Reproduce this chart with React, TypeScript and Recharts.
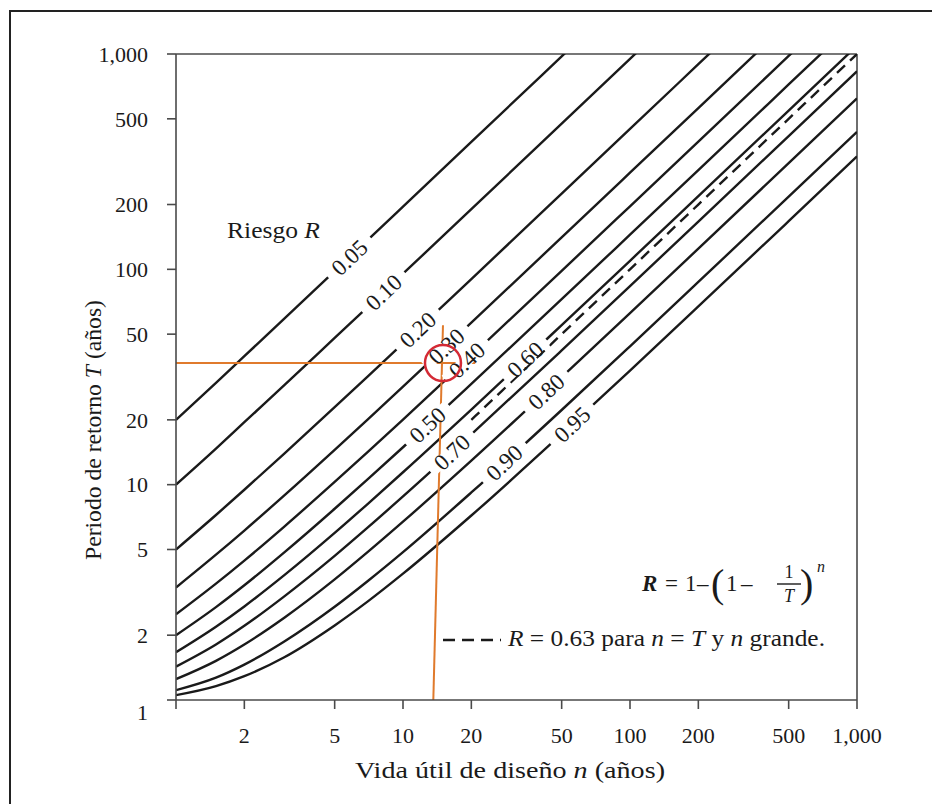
import React from 'react';
import { LineChart, Line, XAxis, YAxis, ReferenceLine, ReferenceDot } from 'recharts';

// design life n (years) at which each curve was read
const nYears = [1, 1.5, 2, 3, 5, 7, 10, 20, 50, 100, 200, 500, 1000];

// return period T (years) per risk curve
const r05 = [20, 29.7, 39.5, 59.0, 98.0, 137.0, 195.5, 390.4, 975.3, 1950, null, null, null];
const r10 = [10, 14.7, 19.5, 29.0, 48.0, 66.9, 95.4, 190.3, 475.1, 949.6, 1898.7, null, null];
const r20 = [5, 7.23, 9.47, 13.95, 22.91, 31.87, 45.31, 90.13, 224.6, 448.6, 896.8, 2241, null];
const r30 = [3.33, 4.73, 6.12, 8.92, 14.52, 20.12, 28.53, 56.57, 140.7, 280.9, 561.2, 1401.8, null];
const r40 = [2.5, 3.47, 4.44, 6.39, 10.3, 14.2, 20.07, 39.65, 98.38, 196.3, 392.0, 979.3, 1958];
const r50 = [2, 2.7, 3.41, 4.85, 7.73, 10.61, 14.92, 29.35, 72.63, 144.8, 289.0, 721.8, 1443];
const r60 = [1.667, 2.19, 2.72, 3.8, 5.97, 8.15, 11.42, 22.32, 55.07, 109.6, 218.8, 546.2, 1091.9];
const r70 = [1.429, 1.81, 2.21, 3.03, 4.67, 6.33, 8.82, 17.12, 42.03, 83.56, 166.6, 415.8, 831.1];
const r80 = [1.25, 1.52, 1.81, 2.41, 3.63, 4.87, 6.73, 12.93, 31.57, 62.63, 124.8, 311.2, 621.8];
const r90 = [1.111, 1.27, 1.46, 1.87, 2.71, 3.57, 4.86, 9.2, 22.22, 43.93, 87.36, 217.6, 434.8];
const r95 = [1.053, 1.16, 1.29, 1.58, 2.22, 2.87, 3.86, 7.19, 17.2, 33.88, 67.26, 167.4, 334.3];
// dashed R = 0.63 line (T = n)
const r63 = [null, null, null, null, null, null, null, 20, 50, 100, 200, 500, 1000];

const riskNames = ['0.05', '0.10', '0.20', '0.30', '0.40', '0.50', '0.60', '0.70', '0.80', '0.90', '0.95'];
const riskValues = [r05, r10, r20, r30, r40, r50, r60, r70, r80, r90, r95];

const axisTicks = [1, 2, 5, 10, 20, 50, 100, 200, 500, 1000];

// where along n each curve label sits
const labelSpots = [5.8, 8.2, 11.6, 15.5, 19.1, 12.8, 34.5, 16.4, 42.7, 27.9, 55.5];

// orange read-off lines and the circled point
const readN = 15;
const readT = 36.7;

const series = riskNames.map((name, i) => ({ key: 'r' + i, name, values: riskValues[i] }));

const data = nYears.map((n, i) => {
  const row: Record<string, number | null> = { n, r63: r63[i] };
  series.forEach((s) => {
    row[s.key] = s.values[i];
  });
  return row;
});

// log-log interpolation along a read series
function onCurve(values: (number | null)[], n: number) {
  for (let i = 0; i < nYears.length - 1; i++) {
    const a = nYears[i];
    const b = nYears[i + 1];
    if (n >= a && n <= b && values[i] != null && values[i + 1] != null) {
      const f = (Math.log(n) - Math.log(a)) / (Math.log(b) - Math.log(a));
      return Math.exp(Math.log(values[i] as number) * (1 - f) + Math.log(values[i + 1] as number) * f);
    }
  }
  return 1;
}

const SERIF = '"Liberation Serif", "Times New Roman", serif';
const INK = '#1a1a1a';
const AXIS = '#4a4a4a';

const fmt = (v: number) => (v >= 1000 ? v.toLocaleString('en-US') : String(v));

function YTick(props: any) {
  const { x, y, payload } = props;
  const shift = payload.value === 1 ? 12 : 0;
  return (
    <text x={x} y={y + shift} dy="0.35em" textAnchor="end" fontFamily={SERIF} fontSize={22} fill={INK}>
      {fmt(payload.value)}
    </text>
  );
}

function XTick(props: any) {
  const { x, y, payload } = props;
  if (payload.value === 1) return null;
  return (
    <text x={x} y={y} dy="0.71em" textAnchor="middle" fontFamily={SERIF} fontSize={22} fill={INK}>
      {fmt(payload.value)}
    </text>
  );
}

function RiskLabel({ cx, cy, text }: { cx: number; cy: number; text: string }) {
  return (
    <g transform={`translate(${cx},${cy}) rotate(-43.5)`}>
      <rect x={-29} y={-6} width={58} height={12} fill="#fff" />
      <text x={0} y={0} dy="0.35em" textAnchor="middle" fontFamily={SERIF} fontSize={23} fill={INK}>
        {text}
      </text>
    </g>
  );
}

export default function App() {
  return (
    <div style={{ position: 'absolute', left: 0, top: 0, width: 932, height: 804, background: '#fff' }}>
      <div
        style={{
          position: 'absolute',
          left: 9,
          top: 10,
          width: 923,
          height: 794,
          borderTop: '2px solid #222',
          borderLeft: '2px solid #222',
          boxSizing: 'border-box',
        }}
      />
      <LineChart
        width={932}
        height={804}
        data={data}
        margin={{ top: 54, right: 75, bottom: 44, left: 96 }}
        style={{ position: 'absolute', left: 0, top: 0 }}
      >
        <XAxis
          dataKey="n"
          type="number"
          scale="log"
          domain={[1, 1000]}
          allowDataOverflow
          ticks={axisTicks}
          tick={<XTick />}
          tickSize={9}
          tickMargin={18}
          height={60}
          axisLine={{ stroke: AXIS, strokeWidth: 1.6 }}
          tickLine={{ stroke: AXIS, strokeWidth: 1.6 }}
        />
        <YAxis
          type="number"
          scale="log"
          domain={[1, 1000]}
          allowDataOverflow
          ticks={axisTicks}
          tick={<YTick />}
          tickSize={9}
          tickMargin={19}
          width={80}
          axisLine={{ stroke: AXIS, strokeWidth: 1.6 }}
          tickLine={{ stroke: AXIS, strokeWidth: 1.6 }}
        />
        <ReferenceLine y={1000} stroke={AXIS} strokeWidth={1.6} />
        <ReferenceLine x={1000} stroke={AXIS} strokeWidth={1.6} />
        {series.map((s) => (
          <Line
            key={s.key}
            dataKey={s.key}
            type="monotone"
            stroke={INK}
            strokeWidth={2.4}
            dot={false}
            activeDot={false}
            isAnimationActive={false}
          />
        ))}
        <Line
          dataKey="r63"
          type="monotone"
          stroke={INK}
          strokeWidth={2.4}
          strokeDasharray="11 7"
          dot={false}
          activeDot={false}
          isAnimationActive={false}
        />
        {series.map((s, i) => (
          <ReferenceDot
            key={'lbl' + s.key}
            x={labelSpots[i]}
            y={onCurve(s.values, labelSpots[i])}
            r={0}
            shape={(p: any) => <RiskLabel cx={p.cx} cy={p.cy} text={s.name} />}
          />
        ))}
        <ReferenceLine
          segment={[{ x: 1, y: readT }, { x: 20.8, y: readT }]}
          stroke="#e07a2c"
          strokeWidth={2}
        />
        <ReferenceLine
          segment={[{ x: 13.6, y: 1 }, { x: readN, y: 55 }]}
          stroke="#e07a2c"
          strokeWidth={2}
        />
        <ReferenceDot x={readN} y={readT} r={18} fill="none" stroke="#d42a35" strokeWidth={2.5} />
      </LineChart>
      <svg
        width={932}
        height={804}
        style={{ position: 'absolute', left: 0, top: 0, pointerEvents: 'none' }}
        fontFamily={SERIF}
        fill={INK}
      >
        <text x={227} y={238} fontSize={23} textLength={93} lengthAdjust="spacingAndGlyphs">
          Riesgo <tspan fontStyle="italic">R</tspan>
        </text>
        <text x={510} y={778} fontSize={23} textAnchor="middle" textLength={310} lengthAdjust="spacingAndGlyphs">
          Vida útil de diseño <tspan fontStyle="italic">n</tspan> (años)
        </text>
        <text
          transform="translate(101,430) rotate(-90)"
          fontSize={23}
          textAnchor="middle"
          textLength={260}
          lengthAdjust="spacingAndGlyphs"
        >
          Periodo de retorno <tspan fontStyle="italic">T</tspan> (años)
        </text>

        {/* formula */}
        <g fontSize={23}>
          <text x={642} y={591} fontStyle="italic" fontWeight="bold">R</text>
          <text x={665} y={591}>=</text>
          <text x={685} y={591}>1</text>
          <text x={697} y={591}>–</text>
          <text x={711} y={597} fontSize={40}>(</text>
          <text x={726} y={591}>1</text>
          <text x={741} y={591}>–</text>
          <text x={789} y={578} fontSize={18} textAnchor="middle">1</text>
          <line x1={777} x2={801} y1={584} y2={584} stroke={INK} strokeWidth={1.4} />
          <text x={789} y={602} fontSize={18} textAnchor="middle" fontStyle="italic">T</text>
          <text x={800} y={597} fontSize={40}>)</text>
          <text x={817} y={572} fontSize={16} fontStyle="italic">n</text>
        </g>

        {/* legend for dashed line */}
        <line x1={443} x2={501} y1={640} y2={640} stroke={INK} strokeWidth={2.4} strokeDasharray="12 7" />
        <text x={508} y={646} fontSize={23} textLength={317} lengthAdjust="spacingAndGlyphs">
          <tspan fontStyle="italic">R</tspan> = 0.63 para <tspan fontStyle="italic">n</tspan> ={' '}
          <tspan fontStyle="italic">T</tspan> y <tspan fontStyle="italic">n</tspan> grande.
        </text>
      </svg>
    </div>
  );
}
